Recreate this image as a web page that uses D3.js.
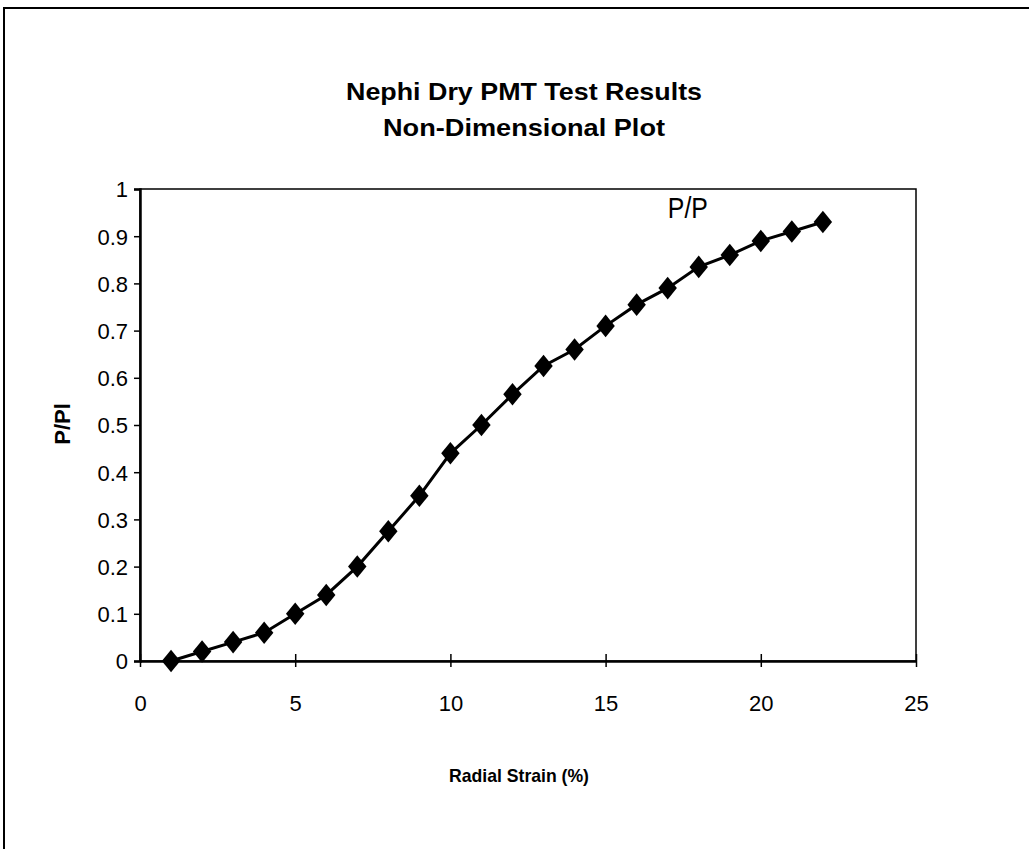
<!DOCTYPE html>
<html>
<head>
<meta charset="utf-8">
<script src="https://cdn.jsdelivr.net/npm/d3@7"></script>
<style>
  body { margin: 0; background: #fff; }
  text { font-family: "Liberation Sans", Arial, sans-serif; fill: #000; }
</style>
</head>
<body>
<svg id="canvas" width="1029" height="849"></svg>
<script>
// values
var strain = [1, 2, 3, 4, 5, 6, 7, 8, 9, 10, 11, 12, 13, 14, 15, 16, 17, 18, 19, 20, 21, 22];
var ratio = [0, 0.02, 0.04, 0.06, 0.10, 0.14, 0.20, 0.275, 0.35, 0.44, 0.50, 0.565,
             0.625, 0.66, 0.71, 0.755, 0.79, 0.835, 0.86, 0.89, 0.91, 0.93];
var xTicks = [0, 5, 10, 15, 20, 25];
var yTicks = [0, 0.1, 0.2, 0.3, 0.4, 0.5, 0.6, 0.7, 0.8, 0.9, 1];
var titleLines = ["Nephi Dry PMT Test Results", "Non-Dimensional Plot"];
var seriesName = "P/P";

var svg = d3.select("#canvas");
// plot area edges (note: "top" is taken by window.top)
var plotL = 140, plotR = 916, plotT = 189, plotB = 661;

// outer chart frame (runs off the right / bottom of the page in the scan)
svg.append("rect")
  .attr("x", 4).attr("y", 8)
  .attr("width", 1060).attr("height", 880)
  .attr("fill", "none").attr("stroke", "#000").attr("stroke-width", 2);

var x = d3.scaleLinear().domain([0, 25]).range([plotL, plotR]);
var y = d3.scaleLinear().domain([0, 1]).range([plotB, plotT]);

// plot box
svg.append("rect")
  .attr("x", plotL).attr("y", plotT)
  .attr("width", plotR - plotL).attr("height", plotB - plotT)
  .attr("fill", "none").attr("stroke", "#000").attr("stroke-width", 1.5);

var yAxis = svg.append("g")
  .attr("transform", "translate(" + plotL + ",0)")
  .call(d3.axisLeft(y).tickValues(yTicks).tickSize(6).tickPadding(6)
    .tickFormat(function(d) { return +d.toFixed(1); }));
yAxis.select(".domain").attr("stroke-width", 2.5);
yAxis.selectAll(".tick line").attr("stroke-width", 1.5);
yAxis.selectAll("text").style("font-size", "22px").attr("dy", "0.36em");

var xAxis = svg.append("g")
  .attr("transform", "translate(0," + plotB + ")")
  .call(d3.axisBottom(x).tickValues(xTicks).tickSizeInner(6).tickSizeOuter(0).tickPadding(28));
xAxis.select(".domain").attr("stroke-width", 2.5);
xAxis.selectAll(".tick line").attr("y1", -7).attr("y2", 6).attr("stroke-width", 1.5);
xAxis.selectAll("text").style("font-size", "22px");

// titles
svg.selectAll(".title")
  .data(titleLines)
  .enter()
  .append("text")
  .attr("class", "title")
  .attr("x", 524)
  .attr("y", function(d, i) { return 100 + i * 36; })
  .attr("text-anchor", "middle")
  .style("font-size", "24px")
  .style("font-weight", "bold")
  .attr("textLength", function(d, i) { return i == 0 ? 356 : 282; })
  .attr("lengthAdjust", "spacingAndGlyphs")
  .text(function(d) { return d; });

svg.append("text")
  .attr("x", 519).attr("y", 782)
  .attr("text-anchor", "middle")
  .style("font-size", "19px").style("font-weight", "bold")
  .attr("textLength", 140).attr("lengthAdjust", "spacingAndGlyphs")
  .text("Radial Strain (%)");

svg.append("text")
  .attr("transform", "translate(70,424) rotate(-90)")
  .attr("text-anchor", "middle")
  .style("font-size", "22px").style("font-weight", "bold")
  .text("P/Pl");

// series
var pts = strain.map(function(s, i) { return [s, ratio[i]]; });

svg.append("path")
  .datum(pts)
  .attr("fill", "none")
  .attr("stroke", "#000")
  .attr("stroke-width", 3)
  .attr("d", d3.line()
    .x(function(d) { return x(d[0]); })
    .y(function(d) { return y(d[1]); }));

// squarer diamond than d3.symbolDiamond
var fatDiamond = {
  draw: function(ctx, size) {
    var r = Math.sqrt(size / 2);
    ctx.moveTo(0, -r * 1.1);
    ctx.lineTo(r * 0.9, 0);
    ctx.lineTo(0, r * 1.1);
    ctx.lineTo(-r * 0.9, 0);
    ctx.closePath();
  }
};

svg.selectAll(".pt")
  .data(pts)
  .enter()
  .append("path")
  .attr("class", "pt")
  .attr("transform", function(d) { return "translate(" + x(d[0]) + "," + y(d[1]) + ")"; })
  .attr("d", d3.symbol().type(fatDiamond).size(210))
  .attr("fill", "#000");

// data label near the end of the series
svg.append("text")
  .attr("x", x(17.65)).attr("y", y(0.93) - 4)
  .attr("text-anchor", "middle")
  .style("font-size", "30px")
  .attr("textLength", 40).attr("lengthAdjust", "spacingAndGlyphs")
  .text(seriesName);
</script>
</body>
</html>
